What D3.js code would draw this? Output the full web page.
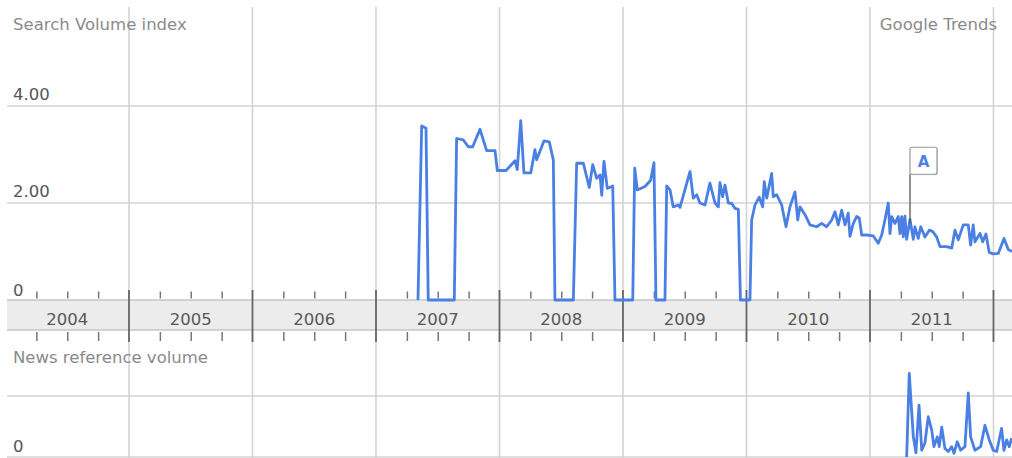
<!DOCTYPE html>
<html><head><meta charset="utf-8">
<script src="https://cdn.jsdelivr.net/npm/d3@7"></script>
<style>
body{margin:0;background:#fff}
svg{display:block}
text{font-family:"DejaVu Sans",sans-serif}
</style></head>
<body><svg id="c" width="1012" height="458"></svg>
<script>
// ---- data ----
const years = [2004, 2005, 2006, 2007, 2008, 2009, 2010, 2011];
const yearLabels = ["2004", "2005", "2006", "2007", "2008", "2009", "2010", "2011"];
const topTicks = [0, 2, 4];
const topTickLabels = ["0", "2.00", "4.00"];
const bottomTicks = [0];
const bottomTickLabels = ["0"];

// Search volume index (time in decimal years)
const searchT = [2007.340,2007.370,2007.405,2007.423,2007.634,2007.653,2007.707,2007.747,2007.783,2007.842,
2007.896,2007.964,2007.982,2008.053,2008.126,2008.144,2008.172,2008.198,2008.253,2008.287,2008.301,2008.360,
2008.403,2008.436,2008.449,2008.598,2008.625,2008.679,2008.727,2008.755,2008.787,2008.814,2008.828,2008.846,
2008.873,2008.917,2008.935,2009.079,2009.095,2009.116,2009.178,2009.224,2009.251,2009.267,2009.340,2009.354,
2009.381,2009.407,2009.448,2009.462,2009.543,2009.569,2009.597,2009.623,2009.664,2009.704,2009.745,2009.772,
2009.785,2009.807,2009.826,2009.853,2009.880,2009.907,2009.934,2009.951,2010.028,2010.042,2010.069,2010.104,
2010.131,2010.144,2010.164,2010.204,2010.217,2010.245,2010.285,2010.320,2010.352,2010.393,2010.415,2010.433,
2010.474,2010.514,2010.568,2010.609,2010.649,2010.690,2010.717,2010.743,2010.771,2010.798,2010.824,2010.838,
2010.865,2010.892,2010.913,2010.933,2010.973,2011.027,2011.067,2011.095,2011.121,2011.148,2011.162,2011.176,
2011.202,2011.229,2011.243,2011.257,2011.270,2011.283,2011.297,2011.324,2011.351,2011.364,2011.391,2011.411,
2011.445,2011.480,2011.508,2011.540,2011.567,2011.621,2011.662,2011.688,2011.715,2011.755,2011.796,2011.815,
2011.836,2011.850,2011.891,2011.913,2011.939,2011.966,2011.998,2012.039,2012.085,2012.120,2012.150];
const searchV = [0,3.59,3.54,0,0,3.33,3.30,3.16,3.16,3.52,
3.08,3.08,2.67,2.67,2.87,2.69,3.70,2.62,2.62,3.10,2.89,3.28,
3.26,2.89,0,0,2.82,2.82,2.32,2.79,2.51,2.58,2.16,2.86,
2.30,2.35,0,0,2.72,2.27,2.34,2.47,2.83,0,0,2.35,
2.27,1.92,1.96,1.91,2.65,2.10,2.17,2.00,1.96,2.41,2.00,1.92,
2.42,2.13,2.37,2.00,1.99,1.89,1.87,0,0,1.65,1.96,2.12,
1.92,2.44,2.10,2.61,2.13,2.17,1.96,1.51,1.92,2.23,1.65,1.92,
1.76,1.55,1.51,1.58,1.51,1.65,1.82,1.55,1.85,1.55,1.79,1.31,
1.58,1.72,1.69,1.34,1.34,1.32,1.17,1.34,1.65,2.00,1.37,1.72,
1.58,1.72,1.37,1.72,1.30,1.73,1.25,1.66,1.25,1.51,1.27,1.51,
1.30,1.44,1.41,1.30,1.10,1.10,1.07,1.44,1.24,1.55,1.55,1.13,
1.55,1.20,1.37,1.20,1.36,0.98,0.95,0.96,1.27,1.04,1.00];

// News reference volume
const newsT = [7.297,7.318,7.351,7.372,7.397,7.419,7.445,7.472,7.500,7.518,7.545,7.561,7.581,7.607,7.634,
7.662,7.680,7.707,7.734,7.769,7.796,7.815,7.850,7.896,7.931,7.966,7.998,8.026,8.066,8.085,8.107,8.128,8.147].map(d => d + 2004);
const newsV = [0,1.37,0.33,0.07,0.85,0.11,0.23,0.66,0.44,0.17,0.33,0.17,0.49,0.14,0.09,
0.17,0.06,0.25,0.11,0.17,1.05,0.33,0.11,0.17,0.52,0.28,0.11,0.09,0.47,0.11,0.28,0.17,0.31];

// annotation
const annT = [2011.324];
const annV = [1.58];
const annLabels = ["A"];

// ---- layout ----
const W = 1012, H = 458;
const svg = d3.select("#c");
const x = d3.scaleLinear().domain([2004, 2012.15]).range([5.5, 1012]);
const yTop = d3.scaleLinear().domain([0, 4]).range([300, 106]);
const yBot = d3.scaleLinear().domain([0, 1]).range([457, 396]);
const left = 7;
const bandTop = 300, bandBot = 330;
const grid = "#d3d3d3";
const blue = "#4a80e4";
const fs = 16.5;

svg.append("defs").append("clipPath").attr("id", "clip")
  .append("rect").attr("x", 0).attr("y", 0).attr("width", W).attr("height", H);

const bounds = years.slice(1).concat([2012]);

// vertical gridlines
svg.append("g").selectAll("line").data(bounds).join("line")
  .attr("x1", d => x(d)).attr("x2", d => x(d)).attr("y1", 7).attr("y2", bandTop)
  .attr("stroke", grid).attr("stroke-width", 1.6);
svg.append("g").selectAll("line").data(bounds).join("line")
  .attr("x1", d => x(d)).attr("x2", d => x(d)).attr("y1", bandBot).attr("y2", H)
  .attr("stroke", grid).attr("stroke-width", 1.6);

// horizontal gridlines top
svg.append("g").selectAll("line").data(topTicks.filter(d => d > 0)).join("line")
  .attr("x1", left).attr("x2", W).attr("y1", d => yTop(d)).attr("y2", d => yTop(d))
  .attr("stroke", grid).attr("stroke-width", 1.6);
// bottom panel gridlines
svg.append("g").selectAll("line").data([0, 1]).join("line")
  .attr("x1", left).attr("x2", W).attr("y1", d => yBot(d)).attr("y2", d => yBot(d))
  .attr("stroke", grid).attr("stroke-width", 1.6);

// band
svg.append("rect").attr("x", left).attr("y", bandTop).attr("width", W - left).attr("height", bandBot - bandTop)
  .attr("fill", "#ececec");
svg.append("line").attr("x1", left).attr("x2", W).attr("y1", bandTop).attr("y2", bandTop).attr("stroke", "#c6c6c6").attr("stroke-width", 1.5);
svg.append("line").attr("x1", left).attr("x2", W).attr("y1", bandBot).attr("y2", bandBot).attr("stroke", "#c6c6c6").attr("stroke-width", 1.5);

// quarter ticks via axes
const quarters = [];
years.forEach(yr => [0.25, 0.5, 0.75].forEach(q => quarters.push(yr + q)));
const qAxisTop = d3.axisTop(x).tickValues(quarters).tickSize(7).tickFormat("");
const qAxisBot = d3.axisBottom(x).tickValues(quarters).tickSize(9).tickFormat("");
const gq1 = svg.append("g").attr("transform", `translate(0,${bandTop - 1.5})`).call(qAxisTop);
const gq2 = svg.append("g").attr("transform", `translate(0,${bandBot + 2})`).call(qAxisBot);
[gq1, gq2].forEach(g => {
  g.select(".domain").remove();
  g.selectAll("line").attr("stroke", "#777").attr("stroke-width", 1.5);
});

// year separators
svg.append("g").selectAll("line").data(bounds).join("line")
  .attr("x1", d => x(d)).attr("x2", d => x(d)).attr("y1", 290).attr("y2", 342)
  .attr("stroke", "#666").attr("stroke-width", 1.8);

// year labels
svg.append("g").selectAll("text").data(years).join("text")
  .attr("x", d => x(d + 0.5)).attr("y", 325).attr("text-anchor", "middle")
  .attr("font-size", fs).attr("fill", "#585858").text((d, i) => yearLabels[i]);

// titles
svg.append("text").attr("x", 13).attr("y", 30).attr("font-size", fs).attr("fill", "#8a8a8a").text("Search Volume index");
svg.append("text").attr("x", 997).attr("y", 30).attr("text-anchor", "end").attr("font-size", fs).attr("fill", "#8a8a8a").text("Google Trends");
svg.append("text").attr("x", 13).attr("y", 363).attr("font-size", fs).attr("fill", "#8a8a8a").text("News reference volume");

// y tick labels
svg.append("g").selectAll("text").data(topTicks).join("text")
  .attr("x", 13).attr("y", d => yTop(d) - (d === 0 ? 4 : 6))
  .attr("font-size", fs).attr("fill", "#555").text((d, i) => topTickLabels[i]);
svg.append("g").selectAll("text").data(bottomTicks).join("text")
  .attr("x", 13).attr("y", d => yBot(d) - 5)
  .attr("font-size", fs).attr("fill", "#555").text((d, i) => bottomTickLabels[i]);

// lines
const searchData = searchT.map((t, i) => [t, searchV[i]]);
const newsData = newsT.map((t, i) => [t, newsV[i]]);
const g = svg.append("g").attr("clip-path", "url(#clip)");
g.append("path").datum(searchData)
  .attr("d", d3.line().x(d => x(d[0])).y(d => yTop(d[1])))
  .attr("fill", "none").attr("stroke", blue).attr("stroke-width", 2.8).attr("stroke-linejoin", "round");
g.append("path").datum(newsData)
  .attr("d", d3.line().x(d => x(d[0])).y(d => yBot(d[1])))
  .attr("fill", "none").attr("stroke", blue).attr("stroke-width", 2.8).attr("stroke-linejoin", "round");

// annotation flag
annT.forEach((t, i) => {
  const ax = x(t), ay = yTop(annV[i]);
  const boxTop = yTop(3.15), boxH = 27, boxW = 27;
  svg.append("line").attr("x1", ax).attr("x2", ax).attr("y1", boxTop + boxH).attr("y2", ay)
    .attr("stroke", "#555").attr("stroke-width", 1.3);
  svg.append("rect").attr("x", ax + 1).attr("y", boxTop + 1).attr("width", boxW).attr("height", boxH)
    .attr("rx", 2).attr("fill", "#ddd");
  svg.append("rect").attr("x", ax).attr("y", boxTop).attr("width", boxW).attr("height", boxH)
    .attr("rx", 2).attr("fill", "#fff").attr("stroke", "#999").attr("stroke-width", 1.2);
  svg.append("text").attr("x", ax + boxW / 2).attr("y", boxTop + 20).attr("text-anchor", "middle")
    .attr("font-size", 15).attr("font-weight", "bold").attr("fill", blue).text(annLabels[i]);
});
</script></body></html>
